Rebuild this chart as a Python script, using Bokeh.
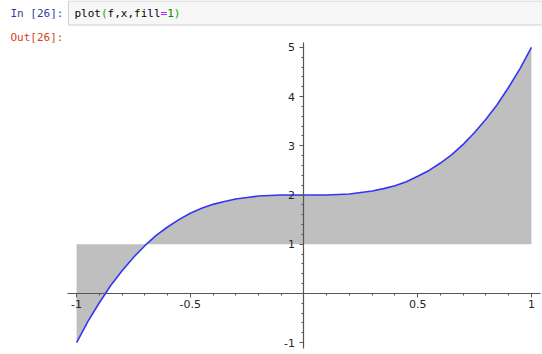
import numpy as np
from bokeh.plotting import figure
from bokeh.models import Range1d, FixedTicker, Label, BoxAnnotation
from bokeh.embed import file_html
from bokeh.resources import INLINE

# sampled values of f over [-1, 1]
x_vals = [-1.00, -0.95, -0.90, -0.85, -0.80, -0.75, -0.70, -0.65, -0.60, -0.55,
          -0.50, -0.45, -0.40, -0.35, -0.30, -0.25, -0.20, -0.15, -0.10, -0.05,
          0.00, 0.05, 0.10, 0.15, 0.20, 0.25, 0.30, 0.35, 0.40, 0.45,
          0.50, 0.55, 0.60, 0.65, 0.70, 0.75, 0.80, 0.85, 0.90, 0.95, 1.00]
f_vals = [-1.00, -0.57, -0.19, 0.16, 0.46, 0.73, 0.97, 1.18, 1.35, 1.50,
          1.63, 1.73, 1.81, 1.87, 1.92, 1.95, 1.98, 1.99, 2.00, 2.00,
          2.00, 2.00, 2.00, 2.01, 2.02, 2.05, 2.08, 2.13, 2.19, 2.27,
          2.38, 2.50, 2.65, 2.82, 3.03, 3.27, 3.54, 3.84, 4.19, 4.57, 5.00]
fill_level = 1

x_major = [-1, -0.5, 0.5, 1]
x_labels = {-1: "-1", -0.5: "-0.5", 0.5: "0.5", 1: "1"}
y_major = [-1, 1, 2, 3, 4, 5]
y_labels = {-1: "-1", 1: "1", 2: "2", 3: "3", 4: "4", 5: "5"}

W, H = 542, 354

# the plot frame spans the whole canvas; the notebook header sits in its top strip
p = figure(width=W, height=H,
           x_range=Range1d(-1.3346, 1.0488), y_range=Range1d(-1.242, 5.954),
           min_border_left=0, min_border_right=0,
           min_border_top=0, min_border_bottom=0,
           output_backend="svg", toolbar_location=None)
p.outline_line_color = None
p.xgrid.visible = False
p.ygrid.visible = False
p.background_fill_color = "white"
p.border_fill_color = "white"

# shaded region between f and the fill level, then the curve itself
p.varea(x=x_vals, y1=f_vals, y2=[fill_level] * len(x_vals), fill_color="#bfbfbf")
p.line(x_vals, f_vals, line_color="#3535f5", line_width=1.6)

# axes crossing at the origin
axis_color = "#555555"
for ax in (p.xaxis[0], p.yaxis[0]):
    ax.fixed_location = 0
    ax.axis_line_color = axis_color
    ax.axis_line_width = 1.2
    ax.major_tick_line_color = axis_color
    ax.minor_tick_line_color = axis_color
    ax.major_tick_in = 0
    ax.major_tick_out = 4
    ax.minor_tick_in = 0
    ax.minor_tick_out = 2
    ax.major_label_text_font = "DejaVu Sans"
    ax.major_label_text_font_size = "11px"
    ax.major_label_text_color = "#262626"

p.xaxis[0].bounds = (-1.04, 1.04)
p.xaxis[0].ticker = FixedTicker(ticks=x_major,
                                minor_ticks=list(np.round(np.arange(-1.0, 1.001, 0.1), 2)))
p.xaxis[0].major_label_overrides = x_labels
p.xaxis[0].major_label_standoff = 3
p.yaxis[0].bounds = (-1.12, 5.10)
p.yaxis[0].ticker = FixedTicker(ticks=y_major,
                                minor_ticks=list(np.round(np.arange(-1.0, 5.001, 0.2), 2)))
p.yaxis[0].major_label_overrides = y_labels
p.yaxis[0].major_label_standoff = 5

# notebook cell header: prompt, code box and output prompt (screen units, y up)
p.add_layout(BoxAnnotation(left=68, right=W + 5, top=H - 0.5, bottom=H - 24.5,
                           left_units="screen", right_units="screen",
                           top_units="screen", bottom_units="screen",
                           fill_color="#f7f7f7", fill_alpha=1,
                           line_color="#cfcfcf", line_width=1, line_alpha=1))

mono = "DejaVu Sans Mono"
p.add_layout(Label(x=10, y=H - 12.5, x_units="screen", y_units="screen",
                   text="In [26]:", text_font=mono, text_font_size="11px",
                   text_color="#303F9F", text_baseline="middle"))
p.add_layout(Label(x=10, y=H - 37, x_units="screen", y_units="screen",
                   text="Out[26]:", text_font=mono, text_font_size="11px",
                   text_color="#D84315", text_baseline="middle"))

char_w = 6.62
code_parts = [("plot", 0, "#000000"), ("(", 4, "#00aa00"), ("f,x,fill", 5, "#000000"),
              ("=", 13, "#AA22FF"), ("1", 14, "#008800"), (")", 15, "#00aa00")]
for txt, col, color in code_parts:
    p.add_layout(Label(x=74 + col * char_w, y=H - 12.5, x_units="screen", y_units="screen",
                       text=txt, text_font=mono, text_font_size="11px",
                       text_color=color, text_baseline="middle"))

open("out.html", "w").write(file_html(p, INLINE))
